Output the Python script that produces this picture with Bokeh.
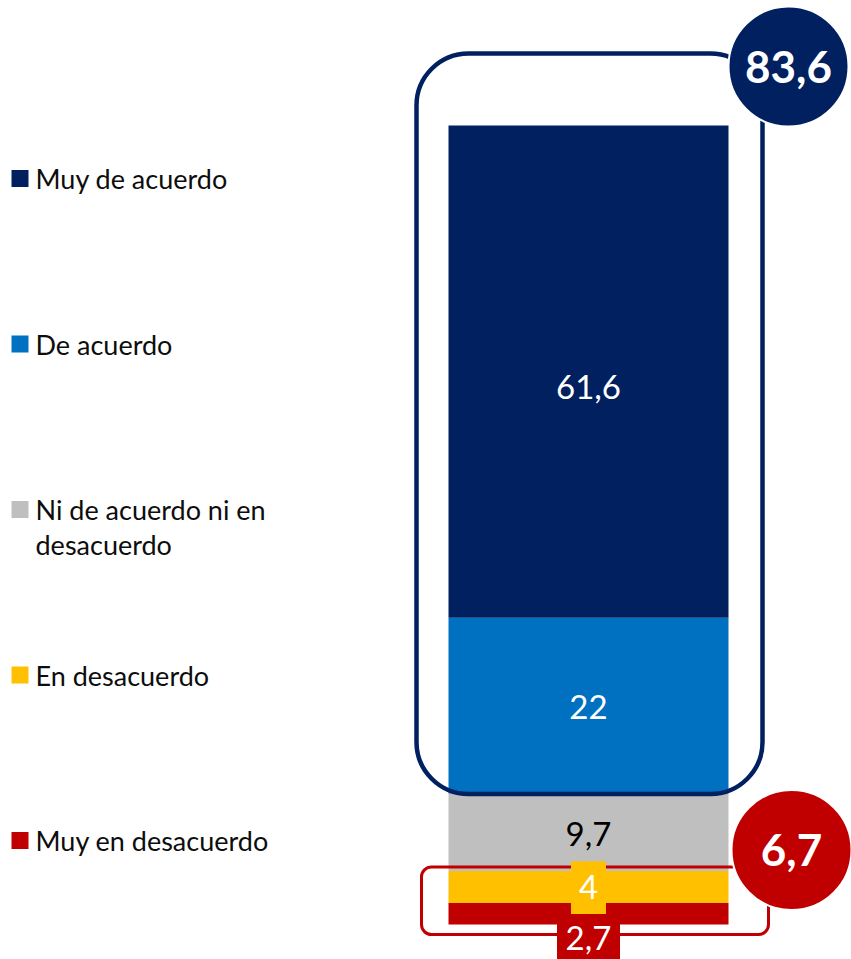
import textwrap
from bokeh.plotting import figure
from bokeh.models import Range1d, BoxAnnotation
from bokeh.core.properties import value
from bokeh.embed import file_html
from bokeh.resources import INLINE

# ---------------- data ----------------
categories = ["Muy en desacuerdo", "En desacuerdo", "Ni de acuerdo ni en desacuerdo",
              "De acuerdo", "Muy de acuerdo"]
values = [2.7, 4.0, 9.7, 22.0, 61.6]
colors = ["#C00000", "#FFC000", "#BFBFBF", "#0070C0", "#002060"]
label_colors = ["white", "white", "black", "white", "white"]

# ---------------- layout helpers (screen px) ----------------
W, H = 851, 959
OFF = 0
BAR_TOP_PX, BAR_BASE_PX = 125, 924
BAR_LEFT_PX, BAR_RIGHT_PX = 448, 728
total = sum(values)
PPU = (BAR_BASE_PX - BAR_TOP_PX) / total


def ys(sy):
    """screen-y (page px) -> value units"""
    return (BAR_BASE_PX - sy) / PPU


def fmt(v):
    s = f"{v:.1f}"
    if s.endswith(".0"):
        s = s[:-2]
    return s.replace(".", ",")


FONT = "Lato"

p = figure(width=W, height=H, output_backend="svg", toolbar_location=None,
           x_range=Range1d(OFF, OFF + W), y_range=Range1d(ys(OFF + H), ys(OFF)),
           min_border=0, outline_line_color=None)
p.axis.visible = False
p.grid.visible = False
p.background_fill_color = "white"

# ---------------- stacked bar ----------------
bar_x = (BAR_LEFT_PX + BAR_RIGHT_PX) / 2
bar_w = BAR_RIGHT_PX - BAR_LEFT_PX
bottoms, tops = [], []
acc = 0.0
for v in values:
    bottoms.append(acc)
    acc += v
    tops.append(acc)
p.vbar(x=[bar_x] * len(values), width=bar_w, bottom=bottoms, top=tops,
       fill_color=colors, line_color=None)

# ---------------- callout boxes ----------------
disagree_total = values[0] + values[1]
agree_total = values[3] + values[4]

blue_box = BoxAnnotation(left=BAR_LEFT_PX - 32, right=BAR_RIGHT_PX + 34,
                         top=total + 72 / PPU, bottom=tops[2] - 0.5 / PPU,
                         fill_alpha=0, line_color="#002060", line_alpha=1.0,
                         line_width=4.5, border_radius=52)
p.add_layout(blue_box)
red_box = BoxAnnotation(left=BAR_LEFT_PX - 27, right=BAR_RIGHT_PX + 40,
                        top=disagree_total + 4 / PPU, bottom=-10 / PPU,
                        fill_alpha=0, line_color="#C00000", line_alpha=1.0,
                        line_width=3, border_radius=10)
p.add_layout(red_box)

# ---------------- data labels ----------------
label_shift_px = [24, 0, 2, 1, 15]   # downward nudges of the labels
lab_y = [(b + t) / 2 - s / PPU for b, t, s in zip(bottoms, tops, label_shift_px)]
lab_txt = [fmt(v) for v in values]
bg_w = [sum(9 if c == "," else 19 for c in t) + 16 for t in lab_txt]
p.rect(x=[bar_x] * len(values), y=lab_y, width=bg_w, height=54,
       width_units="screen", height_units="screen",
       fill_color=colors, line_color=None, level="overlay")
p.text(x=[bar_x] * len(values), y=lab_y, text=lab_txt, text_color=label_colors,
       text_font=value(FONT), text_font_size="33px", text_align="center",
       text_baseline="middle", level="overlay")

# ---------------- total circles ----------------
circ_x = [BAR_RIGHT_PX + 60, BAR_RIGHT_PX + 63]
circ_y = [total + 59 / PPU, disagree_total + 21 / PPU]
circ_col = ["#002060", "#C00000"]
p.scatter(x=circ_x, y=circ_y, size=120, marker="circle", fill_color=circ_col,
          line_color="white", line_width=2, level="overlay")
p.text(x=circ_x, y=circ_y, text=[fmt(agree_total), fmt(disagree_total)],
       text_color="white", text_font=value(FONT), text_font_style="bold",
       text_font_size="44px", text_align="center", text_baseline="middle",
       level="overlay")

# ---------------- legend (manual) ----------------
LEG_TOP_PX, LEG_STEP_PX, LINE_PX = 178, 165.5, 35
leg_cats = categories[::-1]
leg_cols = colors[::-1]
sq_y, tx_x, tx_y, tx_t = [], [], [], []
for i, c in enumerate(leg_cats):
    sy = LEG_TOP_PX + i * LEG_STEP_PX
    sq_y.append(ys(sy))
    for j, line in enumerate(textwrap.wrap(c, 20)):
        tx_x.append(35)
        tx_y.append(ys(sy + j * LINE_PX))
        tx_t.append(line)
p.scatter(x=[19.5] * len(leg_cats), y=sq_y, marker="square", size=17,
          fill_color=leg_cols, line_color=None)
p.text(x=tx_x, y=tx_y, text=tx_t, text_color="#0d0d0d", text_font=value(FONT),
       text_font_size="27px", text_align="left", text_baseline="middle")

open("out.html", "w").write(file_html(p, INLINE))
